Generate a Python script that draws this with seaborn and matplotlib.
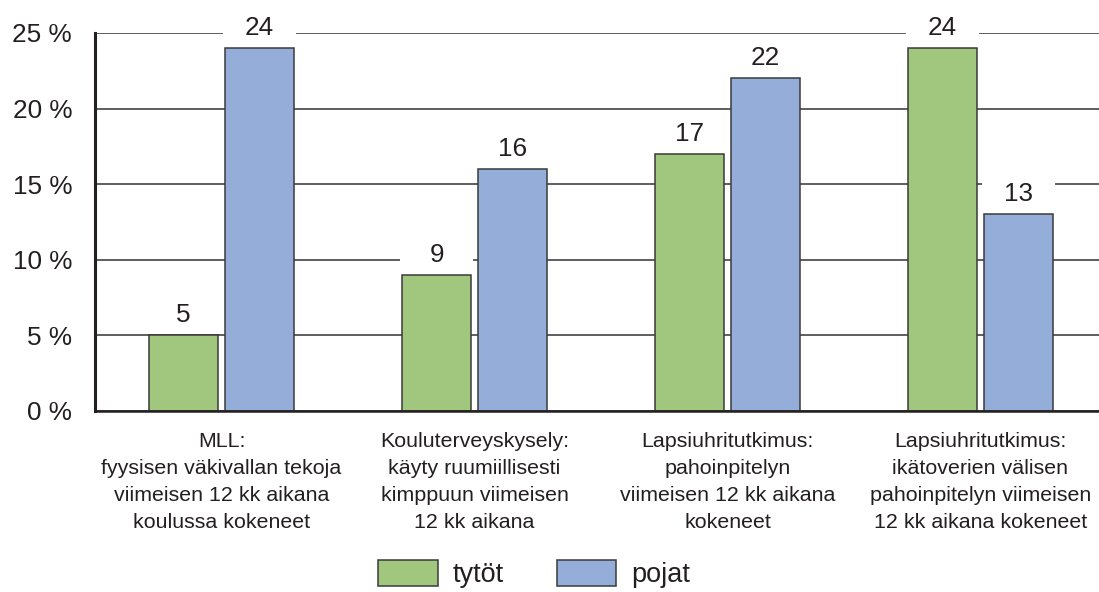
import matplotlib
matplotlib.use("Agg")
import matplotlib.pyplot as plt
import seaborn as sns
import pandas as pd
from matplotlib.patches import Rectangle, Patch

categories = [
    "MLL:\nfyysisen väkivallan tekoja\nviimeisen 12 kk aikana\nkoulussa kokeneet",
    "Kouluterveyskysely:\nkäyty ruumiillisesti\nkimppuun viimeisen\n12 kk aikana",
    "Lapsiuhritutkimus:\npahoinpitelyn\nviimeisen 12 kk aikana\nkokeneet",
    "Lapsiuhritutkimus:\nikätoverien välisen\npahoinpitelyn viimeisen\n12 kk aikana kokeneet",
]
series_names = ["tytöt", "pojat"]
tytot = [5, 9, 17, 24]
pojat = [24, 16, 22, 13]
yticks = [0, 5, 10, 15, 20, 25]
ytick_labels = ["0 %", "5 %", "10 %", "15 %", "20 %", "25 %"]

colors = ["#A0C77D", "#95AED9"]
text_color = "#231F20"

df = pd.DataFrame({
    "cat": categories * 2,
    "group": [series_names[0]] * 4 + [series_names[1]] * 4,
    "value": tytot + pojat,
})

sns.set_style("white")
plt.rcParams["font.family"] = ["Liberation Sans", "DejaVu Sans"]
plt.rcParams["text.color"] = text_color

fig = plt.figure(figsize=(10.99, 5.92), dpi=100)
ax = fig.add_axes([95 / 1099, 1 - 411 / 592, 1012 / 1099, (411 - 33) / 592])

sns.barplot(data=df, x="cat", y="value", hue="group", order=categories,
            hue_order=series_names, palette=colors, width=0.6, gap=0.09,
            edgecolor="#3A3A3A", linewidth=1.1, saturation=1, ax=ax, legend=False)

ax.set_xlim(-0.5, 3.5)
ax.set_ylim(0, 25)
ax.set_yticks(yticks)
ax.set_yticklabels(ytick_labels, fontsize=18.8, color=text_color)
ax.tick_params(axis="y", length=0, pad=16.5)
ax.set_xticks(range(len(categories)))
ax.set_xticklabels(categories, fontsize=15.4, color=text_color, linespacing=1.53)
ax.tick_params(axis="x", which="major", length=0, pad=15)
ax.set_xticks([0.5, 1.5, 2.5], minor=True)
ax.tick_params(axis="x", which="minor", direction="in", length=7, width=2, color="#231F20")
ax.set_xlabel("")
ax.set_ylabel("")

ax.yaxis.grid(True, color="#333333", linewidth=1.1)
ax.set_axisbelow(True)
for s in ["top", "right"]:
    ax.spines[s].set_visible(False)
ax.spines["left"].set_linewidth(2.2)
ax.spines["left"].set_color("#231F20")
ax.spines["bottom"].set_linewidth(1.8)
ax.spines["bottom"].set_color("#231F20")

for cont in ax.containers:
    for bar in cont:
        h = bar.get_height()
        x = bar.get_x()
        w = bar.get_width()
        ax.add_patch(Rectangle((x - 0.008, h + 0.2), w + 0.016, 2.6,
                               facecolor="white", edgecolor="none", zorder=0.8))
        ax.text(x + w / 2, h + 1.35, f"{h:g}", ha="center", va="center",
                fontsize=18.8, color=text_color, zorder=3, clip_on=False)

handles = [Patch(facecolor=colors[i], edgecolor="#3A3A3A", linewidth=1.1, label=series_names[i])
           for i in range(2)]
fig.legend(handles=handles, loc="center", bbox_to_anchor=(0.486, 0.031), ncol=2,
           frameon=False, fontsize=19.5, handlelength=2.2, handleheight=1.1,
           handletextpad=0.55, columnspacing=1.97, borderpad=0)

fig.savefig("out.png", dpi=100)
